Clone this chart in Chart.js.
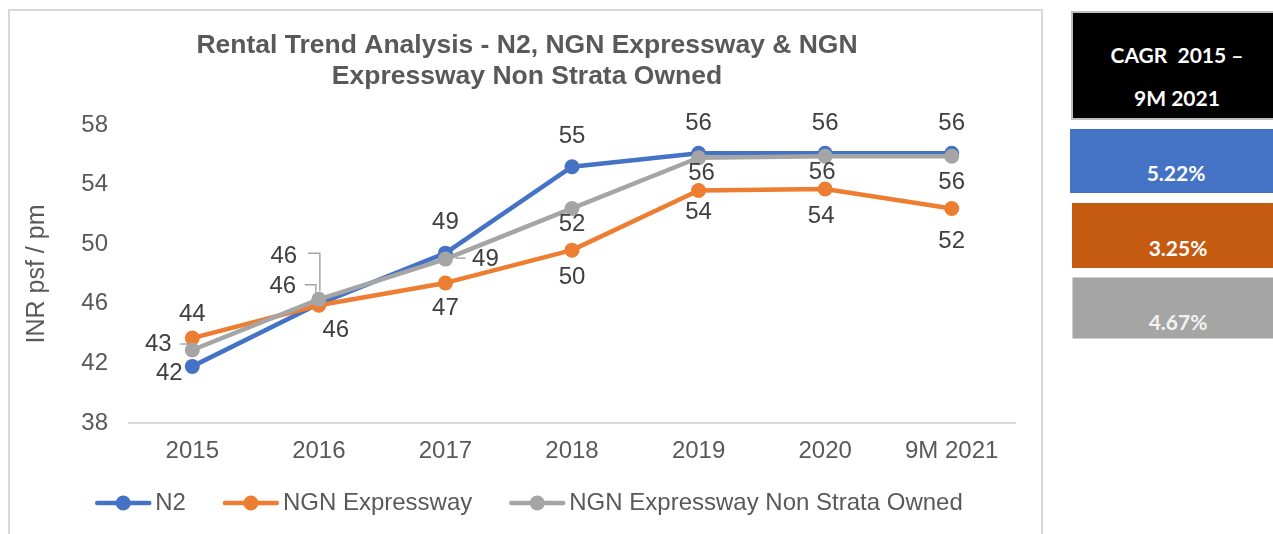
<!DOCTYPE html>
<html>
<head>
<meta charset="utf-8">
<script src="https://cdn.jsdelivr.net/npm/chart.js@4.4.1/dist/chart.umd.min.js"></script>
<style>
  html, body { margin: 0; padding: 0; width: 1273px; height: 534px; overflow: hidden; background: #fff; }
  #frame { position: absolute; left: 8px; top: 9px; width: 1035px; height: 540px; border: 2px solid #d9d9d9; box-sizing: border-box; }
  #wrap { position: absolute; left: 0; top: 0; width: 1050px; height: 534px; }
  .box { position: absolute; left: 1071px; width: 212px; box-sizing: border-box; color: #fff; font-family: Lato, "Open Sans", sans-serif; font-weight: 700; font-size: 21px; text-align: center; white-space: pre; }
  .box span { position: absolute; left: 0; right: 0; transform: translateY(-50%); }
</style>
</head>
<body>
<div id="frame"></div>
<div id="wrap"><canvas id="c" width="1050" height="534"></canvas></div>
<div class="box" style="top:11px;height:109px;background:#000;border:2px solid #bfbfbf;">
  <span id="cagrHead1" style="top:41px;"></span>
  <span id="cagrHead2" style="top:84px;"></span>
</div>
<div class="box" style="top:129px;height:64px;background:#4472C4;left:1070px;"><span id="cagr0" style="top:43px;"></span></div>
<div class="box" style="top:203px;height:65px;background:#C55A11;left:1072px;"><span id="cagr1" style="top:44px;"></span></div>
<div class="box" style="top:277px;height:62px;background:#A5A5A5;left:1072px;border:1px solid #d0d0d0;color:#f2f2f2;"><span id="cagr2" style="top:43px;"></span></div>
<script>
// ---- data ----
const categories = ["2015", "2016", "2017", "2018", "2019", "2020", "9M 2021"];
const seriesNames = ["N2", "NGN Expressway", "NGN Expressway Non Strata Owned"];
const n2Values = [41.8, 46.0, 49.4, 55.2, 56.1, 56.1, 56.1];
const ngnValues = [43.7, 45.9, 47.4, 49.6, 53.6, 53.7, 52.4];
const nonStrataValues = [42.9, 46.3, 49.0, 52.4, 55.8, 55.9, 55.9];
const yTicks = [38, 42, 46, 50, 54, 58];
const cagrHeader = ["CAGR  2015 \u2013", "9M 2021"];
const cagrValues = ["5.22%", "3.25%", "4.67%"];
const titleLines = ["Rental Trend Analysis - N2, NGN Expressway & NGN", "Expressway Non Strata Owned"];
const yAxisTitle = "INR psf / pm";

document.getElementById('cagrHead1').textContent = cagrHeader[0];
document.getElementById('cagrHead2').textContent = cagrHeader[1];
cagrValues.forEach((v, i) => document.getElementById('cagr' + i).textContent = v);

// ---- styling ----
const colors = ["#4472C4", "#ED7D31", "#A5A5A5"];
const FONT = "'Liberation Sans', Arial, sans-serif";
// label offsets [dx, dy] from the point, and optional leader polylines (relative to point)
const labelLayout = [
  { off: [[-23, 7], [-36, -17], [0, -31], [0, -30], [0, -30], [0, -30], [0, -30]],
    leaders: { 1: [[-14, -19], [-3, -19], [-3, -10]] } },
  { off: [[0, -24], [17, 25], [0, 25], [0, 27], [0, 22], [-4, 27], [0, 33]], leaders: {} },
  { off: [[-34, -6], [-35, -43], [40, 0], [0, 16], [3, 16], [-3, 16], [0, 26]],
    leaders: { 0: [[-12, -6], [-4, -6]], 1: [[-11, -46], [1, -46], [1, -8]], 2: [[10, -1], [20, -1]] } }
];

const PLOT = { left: 129, right: 1015, top: 125, bottom: 423 };

const decorPlugin = {
  id: 'decor',
  afterDatasetsDraw(chart) {
    const ctx = chart.ctx;
    ctx.save();
    chart.data.datasets.forEach((ds, di) => {
      const meta = chart.getDatasetMeta(di);
      const lay = labelLayout[di];
      meta.data.forEach((pt, i) => {
        const x = pt.x, y = pt.y;
        const ld = lay.leaders[i];
        if (ld) {
          ctx.strokeStyle = '#a6a6a6';
          ctx.lineWidth = 1.5;
          ctx.beginPath();
          ld.forEach((p, k) => { if (k === 0) ctx.moveTo(x + p[0], y + p[1]); else ctx.lineTo(x + p[0], y + p[1]); });
          ctx.stroke();
        }
        ctx.fillStyle = '#404040';
        ctx.font = '24px ' + FONT;
        ctx.textAlign = 'center';
        ctx.textBaseline = 'middle';
        ctx.fillText(String(Math.round(ds.data[i])), x + lay.off[i][0], y + lay.off[i][1]);
      });
    });
    ctx.restore();
  },
  afterDraw(chart) {
    const ctx = chart.ctx;
    ctx.save();
    ctx.fillStyle = '#595959';
    ctx.font = 'bold 26.5px ' + FONT;
    ctx.textAlign = 'center';
    ctx.textBaseline = 'middle';
    ctx.fillText(titleLines[0], 527, 46);
    ctx.fillText(titleLines[1], 527, 77);
    ctx.save();
    ctx.translate(37, 274);
    ctx.rotate(-Math.PI / 2);
    ctx.font = '25px ' + FONT;
    ctx.fillText(yAxisTitle, 0, 0);
    ctx.restore();
    // legend
    ctx.font = '24px ' + FONT;
    const lineLen = 56, gap = 4, spacing = 37;
    const widths = seriesNames.map(n => ctx.measureText(n).width);
    const total = widths.reduce((a, w) => a + lineLen + gap + w, 0) + spacing * (seriesNames.length - 1);
    let x = 529 - total / 2;
    const y = 503;
    seriesNames.forEach((n, i) => {
      ctx.strokeStyle = colors[i];
      ctx.lineWidth = 4.5;
      ctx.lineCap = 'round';
      ctx.beginPath(); ctx.moveTo(x + 2, y); ctx.lineTo(x + lineLen - 2, y); ctx.stroke();
      ctx.fillStyle = colors[i];
      ctx.beginPath(); ctx.arc(x + lineLen / 2, y, 7.5, 0, Math.PI * 2); ctx.fill();
      ctx.fillStyle = '#595959';
      ctx.textAlign = 'left';
      ctx.fillText(n, x + lineLen + gap, y);
      x += lineLen + gap + widths[i] + spacing;
    });
    ctx.restore();
  }
};

const values = [n2Values, ngnValues, nonStrataValues];
new Chart(document.getElementById('c'), {
  type: 'line',
  data: {
    labels: categories,
    datasets: seriesNames.map((name, i) => ({
      label: name,
      data: values[i],
      borderColor: colors[i],
      backgroundColor: colors[i],
      borderWidth: 4.5,
      borderJoinStyle: 'round',
      borderCapStyle: 'round',
      pointRadius: 7.5,
      pointHoverRadius: 7.5,
      pointBorderWidth: 0,
      tension: 0,
      order: 2 - i
    }))
  },
  options: {
    responsive: false,
    animation: false,
    events: [],
    layout: { padding: { left: 0, right: 1050 - PLOT.right, top: PLOT.top, bottom: 534 - PLOT.bottom - 60 } },
    plugins: { legend: { display: false }, title: { display: false }, tooltip: { enabled: false } },
    scales: {
      x: {
        offset: true,
        grid: { display: false, drawTicks: false, offset: true },
        border: { display: true, color: '#d9d9d9', width: 2 },
        ticks: { color: '#595959', font: { family: FONT, size: 24 }, padding: 14, maxRotation: 0, autoSkip: false },
        afterFit(s) { s.height = 60; }
      },
      y: {
        min: 38, max: 58,
        afterBuildTicks(s) { s.ticks = yTicks.map(v => ({ value: v })); },
        grid: { display: false, drawTicks: false },
        border: { display: false },
        ticks: { color: '#595959', font: { family: FONT, size: 24 }, padding: 21 },
        afterFit(s) { s.width = PLOT.left; }
      }
    }
  },
  plugins: [decorPlugin]
});
</script>
</body>
</html>
